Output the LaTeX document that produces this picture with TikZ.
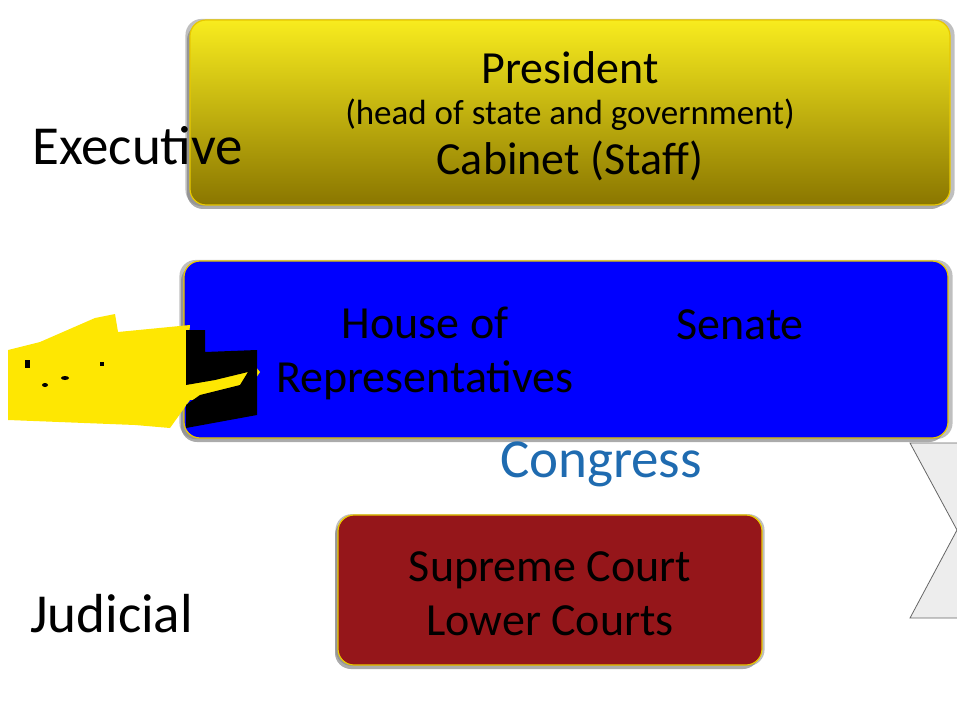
\documentclass[tikz,border=0pt]{standalone}
\usepackage{fontspec}
\setmainfont{Carlito}
\usetikzlibrary{shadows}
\definecolor{gold}{HTML}{E8C800}
\definecolor{congress}{HTML}{1F6BB0}
\definecolor{court}{HTML}{95161A}
\tikzset{
  panel/.style={draw=gold, line width=1.2pt, rounded corners=16pt,
    drop shadow={shadow xshift=-3pt, shadow yshift=-4pt, fill=black!55, opacity=0.6},
    drop shadow={shadow xshift=0pt, shadow yshift=0pt, shadow scale=1.012, fill=black!50, opacity=0.5}},
  lbl/.style={font=\fontsize{55}{60}\selectfont, anchor=west, inner sep=0pt},
  big/.style={font=\fontsize{46}{54}\selectfont, align=center, inner sep=0pt}
}
\begin{document}
\begin{tikzpicture}[x=1pt,y=-1pt]
\useasboundingbox (0,0) rectangle (957,711);
\draw[fill=black!7, draw=black!60, line width=0.8pt] (910,443) -- (960,443) -- (960,618) -- (910,618) -- (957,530) -- cycle;
\path[panel, top color={rgb,255:red,248;green,236;blue,30}, bottom color={rgb,255:red,138;green,118;blue,0}]
  (190,20) rectangle (950,205);
\path[panel, fill=blue] (184,261) rectangle (948,438);
\path[panel, fill=court] (338,515) rectangle (762,665);
% scribble
\fill[yellow!90!orange] (8,350) -- (40,342) -- (95,318) -- (115,314) -- (118,332) -- (190,325) -- (188,350) -- (250,360) -- (260,372) -- (245,395) -- (190,400) -- (170,428) -- (135,425) -- (8,420) -- cycle;
\fill[black] (186,330) -- (205,330) -- (205,352) -- (257,350) -- (257,415) -- (186,428) -- (186,405) -- (200,395) -- (240,385) -- (248,372) -- (215,380) -- (186,385) -- cycle;
\fill[black] (25,360) rectangle (30,368);
\fill[black] (45,385) ellipse (3 and 2);
\fill[black] (65,378) ellipse (4 and 2);
\fill[black] (100,362) rectangle (104,366);
\node[big] (pres) at (570,68) {President};
\node[font=\fontsize{35}{40}\selectfont, inner sep=0pt] (head) at (570,115) {(head of state and government)};
\node[big] (cab) at (570,161) {Cabinet (Staff)};
\node[big] (house) at (425,353) {House of\\Representatives};
\node[big] (senate) at (740,325) {Senate};
\node[big, font=\fontsize{55}{60}\selectfont, text=congress] (cong) at (601,464) {Congress};
\node[big] (courts) at (550,594) {Supreme Court\\Lower Courts};
\node[lbl] (exec) at (32,146) {Executive};
\node[lbl] (jud) at (30,614) {Judicial};
\end{tikzpicture}
\end{document}
